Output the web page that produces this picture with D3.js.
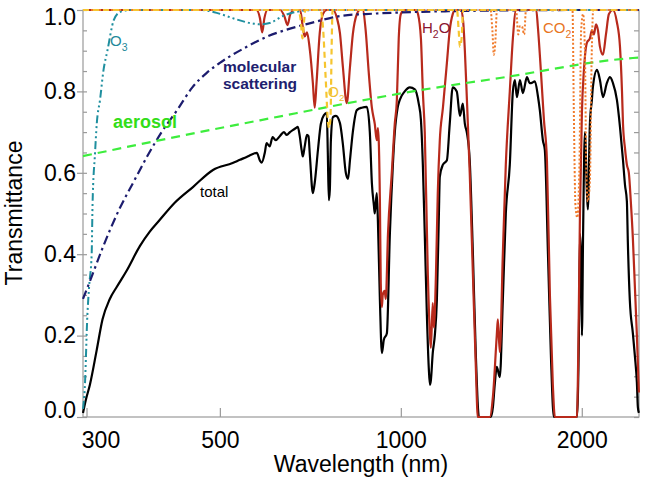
<!DOCTYPE html>
<html><head><meta charset="utf-8">
<script src="https://cdn.jsdelivr.net/npm/d3@7"></script>
<style>
body{margin:0;background:#fff}
svg{display:block}
text{font-family:"Liberation Sans",Arial,Helvetica,sans-serif}
</style>
</head><body>
<svg id="chart" width="651" height="478"></svg>
<script>
// ---- data: [wavelength nm, transmittance] ----
const totalData = [[296,0.01],[299,0.04],[304,0.08],[312,0.165],[319,0.24],[328,0.29],[337,0.32],[350,0.36],[368,0.42],[382,0.455],[397,0.484],[421,0.527],[451,0.565],[487,0.607],[525,0.624],[540,0.632],[554,0.639],[565,0.645],[576,0.649],[583,0.63],[587,0.625],[594,0.65],[598,0.673],[605,0.665],[612,0.688],[619,0.68],[629,0.69],[639,0.70],[646,0.693],[654,0.70],[661,0.705],[669,0.71],[674,0.713],[679,0.69],[684,0.655],[687,0.64],[692,0.665],[698,0.693],[702,0.69],[706,0.64],[714,0.55],[719,0.575],[728,0.656],[736,0.72],[745,0.742],[753,0.747],[756,0.65],[759,0.533],[762,0.56],[765,0.68],[771,0.737],[780,0.74],[792,0.722],[801,0.67],[810,0.6],[817,0.585],[823,0.631],[832,0.70],[845,0.754],[861,0.76],[878,0.762],[888,0.70],[895,0.575],[902,0.52],[905,0.50],[912,0.55],[916,0.48],[923,0.287],[930,0.157],[937,0.19],[948,0.206],[959,0.452],[970,0.62],[977,0.698],[988,0.76],[996,0.779],[1015,0.80],[1035,0.81],[1055,0.805],[1071,0.77],[1080,0.73],[1088,0.62],[1096,0.45],[1105,0.25],[1113,0.12],[1118,0.079],[1122,0.09],[1130,0.157],[1139,0.2],[1148,0.287],[1157,0.5],[1161,0.59],[1175,0.62],[1193,0.631],[1206,0.72],[1220,0.81],[1239,0.80],[1254,0.74],[1268,0.77],[1278,0.72],[1288,0.698],[1302,0.631],[1318,0.4],[1333,0.15],[1349,0.0],[1412,0.0],[1423,0.025],[1433,0.08],[1444,0.123],[1461,0.098],[1478,0.287],[1495,0.5],[1518,0.62],[1536,0.8],[1548,0.828],[1560,0.786],[1578,0.828],[1596,0.796],[1621,0.835],[1639,0.82],[1652,0.821],[1671,0.825],[1690,0.79],[1703,0.754],[1723,0.68],[1736,0.656],[1757,0.4],[1777,0.15],[1797,0.0],[1963,0.0],[1978,0.2],[1986,0.45],[1994,0.4],[2001,0.2],[2010,0.45],[2024,0.70],[2040,0.55],[2047,0.51],[2063,0.72],[2079,0.78],[2087,0.811],[2120,0.853],[2144,0.828],[2169,0.786],[2202,0.821],[2228,0.835],[2253,0.821],[2288,0.779],[2315,0.713],[2342,0.631],[2360,0.57],[2377,0.53],[2386,0.428],[2404,0.287],[2432,0.206],[2451,0.15],[2470,0.084],[2479,0.025],[2489,0.01]];

const h2oData = [[296,1],[560,1],[575,1],[583,0.98],[588,0.945],[593,0.98],[600,1],[630,1],[640,0.985],[648,0.963],[655,0.99],[665,1],[680,1],[687,0.958],[692,0.935],[698,0.945],[706,0.90],[714,0.82],[719,0.76],[724,0.82],[733,0.943],[742,0.99],[753,1],[771,1],[783,0.98],[792,0.943],[801,0.86],[813,0.771],[823,0.86],[832,0.94],[845,0.99],[855,1],[864,1],[874,0.95],[884,0.85],[895,0.76],[905,0.72],[912,0.68],[916,0.71],[923,0.53],[926,0.33],[930,0.27],[933,0.30],[940,0.31],[944,0.29],[952,0.45],[966,0.6],[977,0.72],[985,0.78],[992,0.93],[1000,0.99],[1012,1],[1060,1],[1068,0.99],[1080,0.93],[1088,0.8],[1096,0.7],[1109,0.35],[1118,0.2],[1122,0.17],[1130,0.28],[1135,0.22],[1144,0.35],[1152,0.55],[1161,0.68],[1175,0.76],[1193,0.87],[1206,0.95],[1220,0.99],[1230,1],[1260,1],[1270,0.97],[1278,0.9],[1288,0.78],[1302,0.6],[1318,0.35],[1333,0.12],[1343,0],[1406,0],[1423,0.05],[1444,0.2],[1450,0.24],[1461,0.16],[1478,0.4],[1495,0.62],[1518,0.8],[1536,0.93],[1555,1],[1680,1],[1690,0.96],[1710,0.85],[1730,0.73],[1750,0.631],[1770,0.3],[1790,0.08],[1804,0],[1963,0],[1975,0.2],[1986,0.5],[2001,0.75],[2016,0.85],[2040,0.92],[2063,0.93],[2079,0.95],[2095,0.94],[2112,0.965],[2128,0.95],[2144,0.91],[2169,0.89],[2194,0.94],[2219,0.99],[2253,1],[2288,0.97],[2315,0.91],[2333,0.8],[2342,0.72],[2360,0.66],[2377,0.62],[2395,0.6],[2413,0.53],[2432,0.44],[2451,0.32],[2470,0.2],[2489,0.06]];

const o3Data = [[296,0.02],[298,0.07],[301,0.25],[303,0.32],[306,0.40],[307,0.52],[310,0.65],[312,0.72],[316,0.78],[320,0.85],[325,0.90],[333,0.975],[341,0.995],[355,1.0],[463,1.0],[494,0.993],[525,0.98],[561,0.968],[583,0.965],[605,0.968],[636,0.985],[679,0.997],[720,1.0],[2489,1.0]];

const molecularData = [[296,0.29],[306,0.345],[320,0.42],[340,0.51],[360,0.58],[380,0.645],[400,0.70],[425,0.755],[450,0.81],[475,0.845],[500,0.87],[550,0.907],[600,0.935],[650,0.953],[700,0.966],[800,0.986],[900,0.991],[1000,0.994],[1200,0.997],[1500,0.999],[2000,1.0],[2489,1.0]];

const aerosolData = [[296,0.641],[463,0.700],[583,0.729],[1076,0.803],[1461,0.833],[2432,0.882],[2489,0.883]];

const o2Data = [[296,1],[675,1],[682,0.97],[686,0.93],[690,0.97],[694,1],[735,1],[742,0.96],[750,0.83],[757,0.72],[760,0.71],[764,0.74],[767,0.9],[770,1],[1240,1],[1248,0.95],[1254,0.91],[1262,0.93],[1270,1],[2489,1]];

const co2Data = [[296,1],[1410,1],[1420,0.95],[1428,0.89],[1436,0.92],[1445,1],[1555,1],[1568,0.94],[1578,0.96],[1590,0.96],[1604,0.94],[1615,1],[1930,1],[1940,0.75],[1952,0.52],[1966,0.49],[1982,0.62],[1995,0.95],[2010,0.99],[2024,0.9],[2035,0.6],[2047,0.53],[2063,0.58],[2078,0.9],[2090,1],[2489,1]];

const xTickValues = [300, 500, 1000, 2000];
const yTickValues = [0, 0.2, 0.4, 0.6, 0.8, 1.0];
const yMinorValues = [0,0.05,0.1,0.15,0.2,0.25,0.3,0.35,0.4,0.45,0.5,0.55,0.6,0.65,0.7,0.75,0.8,0.85,0.9,0.95,1.0];

// ---- layout ----
const L = 83, R = 639, T = 10, B = 417;
const svg = d3.select("#chart");
const x = d3.scaleLog().domain([296, 2490]).range([L, R]);
const y = d3.scaleLinear().domain([0, 1]).range([B, T]);
const axisColor = "#9a9a9a";

// frame
svg.append("rect").attr("x", L).attr("y", T).attr("width", R - L).attr("height", B - T)
  .attr("fill", "none").attr("stroke", axisColor).attr("stroke-width", 1.2);

function styleAxis(g) {
  g.select(".domain").remove();
  g.selectAll(".tick line").attr("stroke", axisColor).attr("stroke-width", 1.2);
  g.selectAll(".tick text").attr("fill", "#000").style("font-size", "23px");
}

// left major (outward) ticks + labels
const gl = svg.append("g").attr("transform", `translate(${L},0)`)
  .call(d3.axisLeft(y).tickValues(yTickValues).tickSize(6).tickPadding(1).tickFormat(d3.format(".1f")));
styleAxis(gl);
gl.selectAll(".tick text").attr("transform", d => d === 1 ? "translate(0,7)" : (d === 0 ? "translate(0,-7)" : null));

// left minor inward ticks
const glm = svg.append("g").attr("transform", `translate(${L},0)`)
  .call(d3.axisRight(y).tickValues(yMinorValues).tickSize(4).tickFormat(""));
styleAxis(glm);

// right inward ticks
const gr = svg.append("g").attr("transform", `translate(${R},0)`)
  .call(d3.axisLeft(y).tickValues(yMinorValues).tickSize(5).tickFormat(""));
styleAxis(gr);

// bottom ticks (inward) + labels
const gb = svg.append("g").attr("transform", `translate(0,${B})`)
  .call(d3.axisBottom(x).tickValues(xTickValues).tickSize(-9).tickPadding(15).tickFormat(d3.format("d")));
styleAxis(gb);
gb.selectAll(".tick text").attr("transform", d => d === 300 ? "translate(14,0)" : null);

// axis titles
svg.append("text").attr("x", 361).attr("y", 472).attr("text-anchor", "middle")
  .style("font-size", "23px").text("Wavelength (nm)");
svg.append("text").attr("transform", "translate(22,213) rotate(-90)").attr("text-anchor", "middle")
  .style("font-size", "23px").text("Transmittance");

// ---- lines ----
const line = d3.line().x(d => x(d[0])).y(d => y(d[1])).curve(d3.curveMonotoneX);
function draw(data, color, width, dash) {
  svg.append("path").datum(data).attr("d", line).attr("fill", "none")
    .attr("stroke", color).attr("stroke-width", width)
    .attr("stroke-dasharray", dash || null).attr("stroke-linejoin", "round");
}
draw(totalData, "#000000", 2.2);
draw(h2oData, "#b82a1c", 2.2);
draw(o3Data, "#1f8f9f", 2, "8,3,2,3,2,3,2,3");
draw(molecularData, "#1c1c6e", 2.2, "9,4,2.5,4");
draw(aerosolData, "#3ded3d", 2.2, "9,6");
draw(co2Data, "#f07a2a", 2, "2,2");
draw(o2Data, "#f6c530", 2.2, "6,4");

// ---- labels ----
function label(xp, yp, main, sub, color, size, weight) {
  const t = svg.append("text").attr("x", xp).attr("y", yp).attr("fill", color)
    .style("font-size", size + "px").style("font-weight", weight || "normal");
  t.append("tspan").text(main);
  if (sub) {
    t.append("tspan").attr("dy", size * 0.3).style("font-size", (size * 0.7) + "px").text(sub.s);
    if (sub.after) t.append("tspan").attr("dy", -size * 0.3).text(sub.after);
  }
}
label(110, 46, "O", {s: "3"}, "#1f8a9a", 15);
label(223, 72, "molecular", null, "#20206e", 15.5, "bold");
label(223, 89, "scattering", null, "#20206e", 15.5, "bold");
label(113, 128, "aerosol", null, "#33dd18", 18, "bold");
label(200, 197, "total", null, "#000", 15);
label(422, 33, "H", {s: "2", after: "O"}, "#8b1530", 15);
label(543, 33, "CO", {s: "2"}, "#e8751e", 15);
label(328, 97, "O", {s: "2"}, "#f0c030", 14);
</script>
</body></html>
